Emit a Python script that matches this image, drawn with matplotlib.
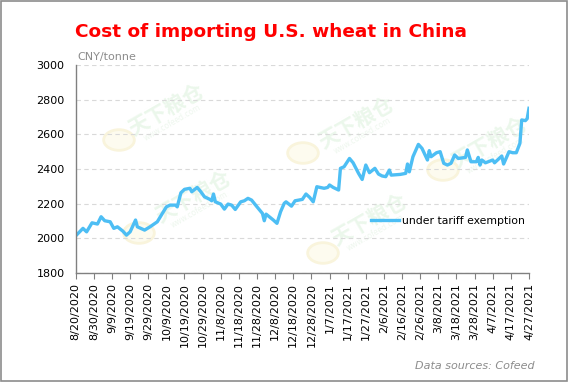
import datetime as dt

import matplotlib
matplotlib.use("Agg")
import matplotlib.dates as mdates
import matplotlib.pyplot as plt
from matplotlib.patches import Circle, Rectangle

# values (CNY/tonne)
dates = [
    "2020-08-20", "2020-08-24", "2020-08-26", "2020-08-29", "2020-09-01",
    "2020-09-03", "2020-09-05", "2020-09-08", "2020-09-10", "2020-09-12",
    "2020-09-15", "2020-09-17", "2020-09-19", "2020-09-22", "2020-09-23",
    "2020-09-27", "2020-09-30", "2020-10-04", "2020-10-09", "2020-10-11",
    "2020-10-14", "2020-10-15", "2020-10-17", "2020-10-19", "2020-10-22",
    "2020-10-23", "2020-10-26", "2020-10-28", "2020-10-30", "2020-11-02",
    "2020-11-03", "2020-11-04", "2020-11-05", "2020-11-08", "2020-11-10",
    "2020-11-12", "2020-11-14", "2020-11-16", "2020-11-19", "2020-11-21",
    "2020-11-23", "2020-11-25", "2020-11-28", "2020-12-01", "2020-12-02",
    "2020-12-03", "2020-12-07", "2020-12-09", "2020-12-11", "2020-12-13",
    "2020-12-14", "2020-12-17", "2020-12-19", "2020-12-23", "2020-12-25",
    "2020-12-27", "2020-12-29", "2020-12-31", "2021-01-04", "2021-01-06",
    "2021-01-07", "2021-01-09", "2021-01-12", "2021-01-13", "2021-01-15",
    "2021-01-18", "2021-01-20", "2021-01-23", "2021-01-25", "2021-01-27",
    "2021-01-29", "2021-02-01", "2021-02-03", "2021-02-05", "2021-02-07",
    "2021-02-09", "2021-02-10", "2021-02-15", "2021-02-18", "2021-02-19",
    "2021-02-20", "2021-02-22", "2021-02-25", "2021-02-27", "2021-03-02",
    "2021-03-03", "2021-03-04", "2021-03-07", "2021-03-09", "2021-03-11",
    "2021-03-13", "2021-03-15", "2021-03-17", "2021-03-19", "2021-03-23",
    "2021-03-24", "2021-03-26", "2021-03-29", "2021-03-30", "2021-03-31",
    "2021-04-01", "2021-04-03", "2021-04-07", "2021-04-08", "2021-04-12",
    "2021-04-13", "2021-04-16", "2021-04-18", "2021-04-20", "2021-04-22",
    "2021-04-23", "2021-04-25", "2021-04-26", "2021-04-27",
]
cost = [
    2015, 2058, 2038, 2090, 2083, 2125, 2102, 2096, 2058, 2067,
    2042, 2019, 2038, 2106, 2067, 2048, 2067, 2096, 2182, 2192,
    2192, 2182, 2263, 2283, 2289, 2269, 2294, 2269, 2240, 2225,
    2217, 2256, 2211, 2198, 2169, 2198, 2192, 2167, 2211, 2217,
    2231, 2221, 2182, 2144, 2102, 2140, 2106, 2087, 2154, 2202,
    2211, 2186, 2217, 2225, 2256, 2237, 2211, 2298, 2289, 2294,
    2308, 2294, 2279, 2404, 2413, 2461, 2436, 2375, 2340, 2423,
    2379, 2404, 2371, 2360, 2356, 2394, 2365, 2369, 2375, 2429,
    2384, 2471, 2542, 2519, 2452, 2506, 2471, 2494, 2500, 2433,
    2423, 2433, 2481, 2461, 2467, 2510, 2442, 2442, 2467, 2423,
    2452, 2436, 2452, 2436, 2475, 2429, 2500, 2494, 2494, 2548,
    2683, 2679, 2690, 2750,
]
series_label = "under tariff exemption"
title = "Cost of importing U.S. wheat in China"
unit = "CNY/tonne"
source = "Data sources: Cofeed"
watermark = "天下粮仓"
watermark_url = "www.cofeed.com"

x = [dt.datetime.strptime(d, "%Y-%m-%d") for d in dates]
start = dt.datetime(2020, 8, 20)
end = dt.datetime(2021, 4, 27)
tick_dates = [start + dt.timedelta(days=10 * i) for i in range(26)]

W, H = 568, 382
fig = plt.figure(figsize=(W / 100, H / 100), dpi=100)
fig.patch.set_facecolor("white")
# thin grey frame round the whole picture
fig.patches.append(Rectangle((0.001, 0.002), 0.997, 0.995, transform=fig.transFigure,
                             fill=False, edgecolor="#8c8c8c", linewidth=1.2))

ax = fig.add_axes([0.1333, 0.285, 0.798, 0.545])
ax.set_zorder(2)
ax.patch.set_alpha(0)

# faint cofeed watermarks behind the plot (pixel positions of text / logo)
for tx, ty, lx, ly in [(166, 110, 119, 140), (356, 123, 303, 153), (193, 197, 139, 233),
                       (369, 220, 323, 253), (489, 143, 443, 170)]:
    fig.text(tx / W, 1 - ty / H, watermark, family=["Noto Sans CJK SC", "DejaVu Sans"],
             fontsize=15, fontweight="bold", color="#ebf7eb", rotation=30,
             ha="center", va="center", zorder=0)
    fig.text((tx + 6) / W, 1 - (ty + 13) / H, watermark_url, fontsize=5.5,
             color="#eef7ee", rotation=30, ha="center", va="center", zorder=0)
    fig.patches.append(Circle((lx / W, 1 - ly / H), 0.027, transform=fig.transFigure,
                              facecolor="#fdfbef", edgecolor="#f9f4dc", linewidth=2,
                              zorder=0))

ax.plot(x, cost, color="#4dbef4", linewidth=2.4, solid_joinstyle="round",
        label=series_label)

ax.set_xlim(start, end)
ax.set_ylim(1800, 3000)
ax.set_yticks(range(1800, 3001, 200))
ax.yaxis.grid(True, color="#d9d9d9", linestyle=(0, (4, 3)), linewidth=0.8)
ax.set_axisbelow(True)
ax.tick_params(axis="y", length=0, labelsize=8, pad=8, colors="black")

ax.set_xticks(tick_dates)
ax.xaxis.set_major_formatter(
    matplotlib.ticker.FuncFormatter(
        lambda v, p: "{d.month}/{d.day}/{d.year}".format(d=mdates.num2date(v))))
ax.tick_params(axis="x", length=4, width=0.8, color="#808080", labelsize=8,
               labelrotation=90, pad=3)

for s in ["top", "right"]:
    ax.spines[s].set_visible(False)
for s in ["left", "bottom"]:
    ax.spines[s].set_color("#808080")
    ax.spines[s].set_linewidth(1.0)

ax.legend(loc="center left", bbox_to_anchor=(0.63, 0.25), frameon=False,
          fontsize=7.8, handlelength=2.6, handletextpad=0.3)

fig.text(0.132, 0.916, title, color="#ff0000", fontsize=13.3, fontweight="bold",
         va="center", ha="left")
fig.text(0.137, 0.838, unit, color="#8c8c8c", fontsize=8, ha="left", va="bottom")
fig.text(0.942, 0.042, source, color="#8c8c8c", fontsize=8, style="italic",
         ha="right", va="center")

fig.savefig("out.png", dpi=100, facecolor="white")
